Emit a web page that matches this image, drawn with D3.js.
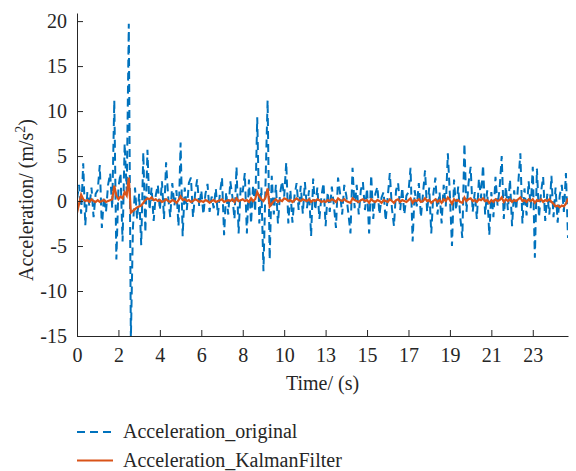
<!DOCTYPE html>
<html>
<head>
<meta charset="utf-8">
<script src="https://cdnjs.cloudflare.com/ajax/libs/d3/7.8.5/d3.min.js"></script>
<style>
body { margin: 0; background: white; }
svg { display: block; }
.axis text { font-family: "Liberation Serif", "DejaVu Serif", serif; font-size: 20px; fill: #262626; }
.axis path, .axis line { stroke: #262626; stroke-width: 1px; }
.label { font-family: "Liberation Serif", "DejaVu Serif", serif; font-size: 20px; fill: #262626; }
</style>
</head>
<body>
<svg id="chart"></svg>
<script>
var svgw = 576
var svgh = 471

// sampling step of both signals (s)
var timeStep = 0.1

// raw accelerometer reading
var accOriginal = [
  0.2, 1.8, -1.4, 4.2, -2.7, 1.0, -0.6, 1.5, -1.8, 0.8,
  1.2, 4.0, -3.0, 0.5, -1.2, 1.8, 3.1, -0.8, 11.2, -6.5,
  1.5, 3.1, -4.5, 6.4, 1.0, 19.7, -15.3, -3.0, 1.5, -2.0,
  0.8, -4.9, 5.4, -3.5, 5.7, -1.0, 1.5, -2.2, 0.6, 1.8,
  -1.0, 2.2, -2.0, 4.3, 0.5, -1.8, 2.0, -0.5, 1.2, -2.8,
  6.5, -3.9, 1.5, -1.0, 2.0, 2.6, -1.8, 0.8, 2.4, -0.6,
  1.2, -1.5, 0.8, 1.9, -1.2, 0.5, -0.8, 1.4, -1.6, 0.9,
  2.6, -3.8, 1.0, -1.5, 2.2, 0.5, -2.0, 3.8, -3.6, 1.6,
  1.0, 3.1, -3.6, 2.4, -2.5, 1.8, -1.2, 9.3, -2.5, 1.5,
  -7.8, 2.0, 11.2, -6.5, 2.8, -1.5, 1.8, -2.5, 0.8, 2.2,
  0.5, 4.3, -2.5, 1.2, -2.4, 0.6, 2.0, -1.0, 1.7, -1.4,
  2.1, -0.8, 1.2, -3.9, 2.5, -1.0, 1.5, -2.0, 0.6, 2.0,
  -2.8, 1.0, -1.2, 1.6, -0.5, -3.0, 2.6, 0.8, -1.5, 1.8,
  0.6, -1.4, -3.6, 3.7, -0.8, 1.8, -1.5, 1.2, 2.1, -1.0,
  1.4, -3.6, 2.9, -2.0, 0.8, 1.6, -1.5, 0.4, 1.0, -2.2,
  0.5, 3.1, -0.8, -2.8, 1.2, 2.0, -1.0, 1.5, -1.5, 0.6,
  1.0, 3.7, -4.5, 1.2, -0.6, 2.0, -1.8, 0.8, 3.4, -1.2,
  1.5, -3.6, 0.8, 2.6, -1.5, 1.0, -2.5, 1.8, -0.6, 5.3,
  0.6, -5.0, 2.4, -1.0, 1.6, -1.8, -4.1, 6.4, -1.2, 2.0,
  3.8, -1.2, 1.0, -2.0, 2.5, 0.3, 4.0, -1.5, 1.2, -3.8,
  1.0, -1.8, 2.7, -0.5, 1.4, 5.0, -2.0, 1.6, -1.0, 2.4,
  -2.8, 1.2, -1.0, 2.0, 5.3, -2.5, 1.4, -1.6, 2.2, -0.8,
  3.8, -6.3, 3.6, -1.8, 1.0, 2.7, -2.2, 0.8, -1.5, 2.8,
  -1.8, 1.5, -2.4, 0.6, 1.8, -1.2, 3.1, -4.1
]

// kalman filtered signal
var accKalman = [
  -1.3, -0.3, 0.7, 0.2, 0.0, 0.1, -0.1, 0.2, 0.0, -0.1,
  0.1, -0.1, 0.0, 0.1, -0.1, 0.0, 0.1, 0.2, 1.7, 0.6,
  0.2, 0.5, 0.3, 1.0, 0.6, 2.6, -1.3, -1.1, -0.9, -0.7,
  -0.6, -0.5, -0.2, 0.1, 0.3, 0.2, 0.4, 0.1, 0.2, 0.0,
  0.1, -0.1, 0.0, 0.2, 0.0, -0.1, 0.1, 0.0, -0.2, 0.1,
  0.5, 0.1, 0.2, 0.0, 0.1, -0.1, 0.0, 0.2, 0.1, -0.1,
  0.0, -0.1, 0.1, 0.0, -0.2, 0.0, 0.1, -0.1, 0.0, 0.1,
  0.2, -0.1, 0.0, 0.1, 0.0, 0.2, -0.1, 0.3, 0.0, 0.1,
  0.2, 0.0, 0.1, -0.1, 0.3, 0.0, 0.2, 1.0, 0.5, 0.2,
  0.0, 0.4, 1.4, -0.6, -0.3, 0.0, 0.2, -0.1, 0.1, 0.0,
  0.3, 0.2, 0.0, 0.1, -0.1, 0.1, 0.3, 0.1, 0.0, 0.2,
  0.1, 0.0, 0.2, -0.1, 0.1, 0.0, 0.2, 0.1, -0.1, 0.0,
  -0.1, 0.1, 0.0, 0.2, 0.1, -0.1, 0.3, 0.1, 0.0, 0.2,
  0.0, -0.1, -0.2, 0.3, 0.1, 0.0, -0.1, 0.1, 0.2, 0.0,
  0.1, -0.2, 0.2, 0.0, -0.1, 0.1, 0.0, -0.2, 0.1, 0.0,
  -0.1, 0.2, 0.0, -0.2, 0.1, 0.2, -0.1, 0.1, 0.0, -0.1,
  0.1, 0.3, -0.2, 0.1, 0.0, 0.2, -0.1, 0.0, 0.3, 0.0,
  0.1, -0.2, 0.0, 0.2, -0.1, 0.1, -0.2, 0.2, 0.0, 0.4,
  0.1, -0.3, 0.2, 0.0, 0.1, -0.1, -0.2, 0.4, 0.0, 0.2,
  0.3, 0.0, 0.1, -0.1, 0.2, 0.1, 0.3, 0.0, 0.1, -0.2,
  0.1, -0.1, 0.2, 0.0, 0.1, 0.4, -0.1, 0.2, 0.0, 0.2,
  -0.1, 0.1, 0.0, 0.2, 0.4, 0.0, 0.1, -0.1, 0.2, 0.0,
  0.2, -0.2, 0.1, 0.0, 0.2, -0.1, 0.1, 0.0, 0.2, -0.1,
  -0.3, -0.6, -0.5, -0.7, -0.5, -0.6, -0.3, 0.3
]

var seriesNames = ["Acceleration_original", "Acceleration_KalmanFilter"]
var seriesColors = ["#0072BD", "#D95319"]

var xTickValues = [0, 2, 4, 6, 8, 10, 12, 14, 16, 18, 20, 22]
var xTickLabels = ["0", "2", "4", "6", "8", "10", "13", "15", "17", "19", "21", "23"]
var yTickValues = [-15, -10, -5, 0, 5, 10, 15, 20]

var margins = {left: 77, top: 13, right: 8, bottom: 135}
var graphDim = {width: svgw - margins.left - margins.right, height: svgh - margins.top - margins.bottom}

var makeTranslateString = function(x, y)
{
    return "translate(" + x + "," + y + ")"
}

var drawLines = function(target, xScale, yScale)
{
    target.append("clipPath")
    .attr("id", "plotclip")
    .append("rect")
    .attr("width", graphDim.width)
    .attr("height", graphDim.height)

    var line = d3.line()
    .x(function(d, i){return xScale(i * timeStep)})
    .y(function(d){return yScale(d)})

    var plot = target.append("g").attr("clip-path", "url(#plotclip)")

    plot.append("path")
    .datum(accOriginal)
    .attr("d", line)
    .attr("fill", "none")
    .attr("stroke", seriesColors[0])
    .attr("stroke-width", 2)
    .attr("stroke-dasharray", "8,5")

    plot.append("path")
    .datum(accKalman)
    .attr("d", line)
    .attr("fill", "none")
    .attr("stroke", seriesColors[1])
    .attr("stroke-width", 2.2)
}

var drawAxes = function(target, xScale, yScale)
{
    var xAxis = d3.axisBottom(xScale)
    .tickValues(xTickValues)
    .tickFormat(function(d, i){return xTickLabels[i]})
    .tickSizeInner(-6)
    .tickSizeOuter(0)
    .tickPadding(12)
    target.append("g")
    .attr("class", "axis")
    .attr("transform", makeTranslateString(0, graphDim.height))
    .call(xAxis)

    // plain hyphen for negatives, like the original figure
    var yAxis = d3.axisLeft(yScale)
    .tickValues(yTickValues)
    .tickFormat(function(d){return String(d)})
    .tickSizeInner(-6)
    .tickSizeOuter(0)
    .tickPadding(10)
    target.append("g")
    .attr("class", "axis")
    .call(yAxis)
}

var drawLabels = function(target)
{
    //x-label
    target.append("text")
    .attr("class", "label")
    .attr("text-anchor", "middle")
    .attr("x", graphDim.width / 2)
    .attr("y", graphDim.height + 54)
    .text("Time/ (s)")

    //y-label
    var ylab = target.append("text")
    .attr("class", "label")
    .attr("text-anchor", "middle")
    .attr("transform", makeTranslateString(-44, 200 - margins.top) + " rotate(-90)")
    ylab.append("tspan").text("Acceleration/ (m/s")
    ylab.append("tspan").attr("dy", -8).style("font-size", "14px").text("2")
    ylab.append("tspan").attr("dy", 8).text(")")
}

var drawLegend = function(target)
{
    var leg = target.append("g")
    .attr("transform", makeTranslateString(0, 432))

    var items = leg.selectAll("g")
    .data(seriesNames)
    .enter()
    .append("g")
    .attr("transform", function(d, i){return makeTranslateString(0, i * 28.5)})

    items.append("line")
    .attr("x1", 77)
    .attr("x2", 113)
    .attr("stroke", function(d, i){return seriesColors[i]})
    .attr("stroke-width", 2)
    .attr("stroke-dasharray", function(d, i){return i == 0 ? "8,5" : null})

    items.append("text")
    .attr("class", "label")
    .attr("x", 123)
    .attr("y", 0)
    .attr("dy", "0.3em")
    .text(function(d){return d})
}

var svg = d3.select("#chart")
.attr("width", svgw)
.attr("height", svgh)

var target = svg.append("g")
.attr("transform", makeTranslateString(margins.left, margins.top))

var xScale = d3.scaleLinear()
.domain([0, 23.7])
.range([0, graphDim.width])

var yScale = d3.scaleLinear()
.domain([-15, 20.9])
.range([graphDim.height, 0])

drawLines(target, xScale, yScale)
drawAxes(target, xScale, yScale)
drawLabels(target)
drawLegend(svg)
</script>
</body>
</html>
